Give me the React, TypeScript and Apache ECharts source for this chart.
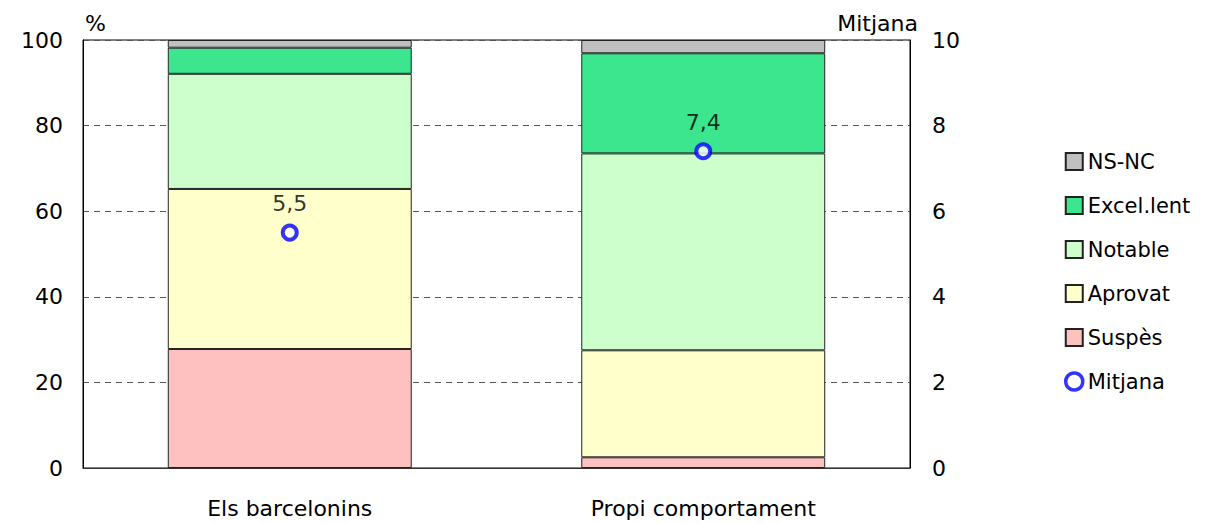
import React, { useEffect, useRef } from "react";
import * as echarts from "echarts";

const categories = ["Els barcelonins", "Propi comportament"];
const suspes = [27.8, 2.5];
const aprovat = [37.4, 25.0];
const notable = [26.9, 46.0];
const excellent = [6.1, 23.4];
const nsnc = [1.8, 3.1];
const mitjana = [5.5, 7.4];
const leftTicks = [0, 20, 40, 60, 80, 100];

const FONT = "DejaVu Sans";
const FS = 22;

export default function App() {
  const ref = useRef<HTMLDivElement>(null);
  useEffect(() => {
    if (!ref.current) return;
    const chart = echarts.init(ref.current, null, { renderer: "svg" });
    const barBase = {
      type: "bar",
      stack: "total",
      barWidth: "59%",
      yAxisIndex: 0,
      itemStyle: { borderColor: "#222", borderWidth: 1 },
      emphasis: { disabled: true },
    };
    chart.setOption({
      animation: false,
      textStyle: { fontFamily: FONT },
      grid: { left: 83, right: 308, top: 40, bottom: 55, show: true, borderColor: "#000", borderWidth: 1, backgroundColor: "transparent" },
      legend: {
        orient: "vertical",
        left: 1064,
        top: 151,
        padding: 0,
        itemGap: 23,
        itemWidth: 17,
        itemHeight: 17,
        textStyle: { fontFamily: FONT, fontSize: 21, color: "#000" },
        data: [
          { name: "NS-NC", icon: "rect" },
          { name: "Excel.lent", icon: "rect" },
          { name: "Notable", icon: "rect" },
          { name: "Aprovat", icon: "rect" },
          { name: "Suspès", icon: "rect" },
          { name: "Mitjana", icon: "circle", itemStyle: { color: "#fff", borderColor: "#0000ff", borderWidth: 3.5 } },
        ],
      },
      xAxis: {
        type: "category",
        data: categories,
        axisLine: { lineStyle: { color: "#333" } },
        axisTick: { show: false },
        axisLabel: { fontFamily: FONT, fontSize: FS, color: "#000", margin: 29 },
      },
      yAxis: [
        {
          type: "value",
          min: 0,
          max: 100,
          interval: 20,
          name: "%",
          nameGap: 6,
          nameTextStyle: { fontFamily: FONT, fontSize: FS, color: "#000", align: "left", padding: [0, 0, 0, 2] },
          axisLine: { show: true, lineStyle: { color: "#000" } },
          axisTick: { show: false },
          axisLabel: { fontFamily: FONT, fontSize: FS, color: "#000", margin: 20, formatter: (v: number) => (leftTicks.includes(v) ? String(v) : "") },
          splitLine: { show: true, lineStyle: { color: "#555", type: [6, 5], width: 1 } },
        },
        {
          type: "value",
          min: 0,
          max: 10,
          interval: 2,
          name: "Mitjana",
          nameGap: 6,
          nameTextStyle: { fontFamily: FONT, fontSize: FS, color: "#000", align: "right", padding: [0, -8, 0, 0] },
          position: "right",
          axisLine: { show: true, lineStyle: { color: "#000" } },
          axisTick: { show: false },
          axisLabel: { fontFamily: FONT, fontSize: FS, color: "#000", margin: 22 },
          splitLine: { show: false },
        },
      ],
      series: [
        { ...barBase, name: "Suspès", data: suspes, itemStyle: { ...barBase.itemStyle, color: "#ffc0c0" } },
        { ...barBase, name: "Aprovat", data: aprovat, itemStyle: { ...barBase.itemStyle, color: "#ffffcc" } },
        { ...barBase, name: "Notable", data: notable, itemStyle: { ...barBase.itemStyle, color: "#ccffcc" } },
        { ...barBase, name: "Excel.lent", data: excellent, itemStyle: { ...barBase.itemStyle, color: "#3ce68f" } },
        { ...barBase, name: "NS-NC", data: nsnc, itemStyle: { ...barBase.itemStyle, color: "#c0c0c0" } },
        {
          name: "Mitjana",
          type: "scatter",
          yAxisIndex: 1,
          data: mitjana,
          symbol: "circle",
          symbolSize: 14,
          z: 10,
          itemStyle: { color: "#fff", borderColor: "#0000ff", borderWidth: 4 },
          label: {
            show: true,
            position: "top",
            distance: 9,
            fontFamily: FONT,
            fontSize: FS,
            color: "#000",
            formatter: (p: any) => String(p.value).replace(".", ","),
          },
          emphasis: { disabled: true },
        },
      ],
    });
    return () => chart.dispose();
  }, []);
  return <div ref={ref} style={{ width: 1218, height: 523, marginLeft: -8, marginTop: -8 }} />;
}
